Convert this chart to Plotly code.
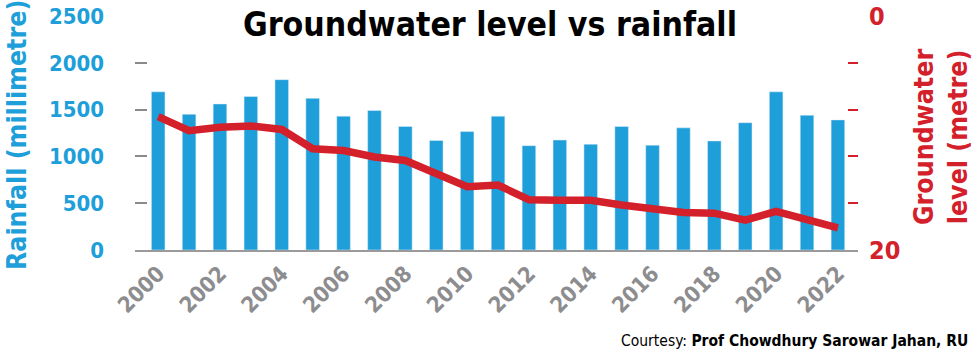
import plotly.graph_objects as go

years = list(range(2000, 2023))
rainfall = [1690, 1450, 1560, 1640, 1820, 1620, 1430, 1490, 1320, 1170, 1265,
            1430, 1115, 1175, 1130, 1320, 1120, 1305, 1165, 1360, 1690, 1440, 1390]
groundwater = [8.6, 9.8, 9.5, 9.4, 9.7, 11.35, 11.5, 12.05, 12.35, 13.5, 14.6,
               14.45, 15.7, 15.75, 15.75, 16.15, 16.55, 16.8, 16.85, 17.45, 16.7, 17.35, 18.1]
x_tick_labels = [str(y) for y in years[::2]]
left_ticks = [0, 500, 1000, 1500, 2000, 2500]
right_ticks = [0, 4, 8, 12, 16, 20]
right_tick_labels = ["0", "", "", "", "", "20"]

BLUE = "#1e9fda"
RED = "#d3202a"
GREY = "#8d8d8f"
FONT = "DejaVu Sans Condensed, DejaVu Sans, sans-serif"


def F(size, color, bold=True):
    d = dict(size=size, color=color, family=FONT)
    if bold:
        d["weight"] = "bold"
    try:
        go.layout.annotation.Font(stretch="condensed")
        d["stretch"] = "condensed"
    except Exception:
        pass
    return d


L, T, B, R = 135, 16, 109, 117
PW, PH = 975 - L - R, 359 - T - B


def px(x):
    return (x - L) / PW


def py(y):
    return (359 - B - y) / PH


fig = go.Figure()
fig.add_trace(go.Bar(x=list(range(len(years))), y=rainfall, marker_color=BLUE,
                     width=0.44, yaxis="y", showlegend=False))
fig.add_trace(go.Scatter(x=list(range(len(years))), y=groundwater, mode="lines",
                         line=dict(color=RED, width=7.5), yaxis="y2", showlegend=False))

fig.update_layout(
    width=975, height=359,
    margin=dict(l=L, r=R, t=T, b=B),
    paper_bgcolor="white", plot_bgcolor="white",
    font=dict(family=FONT),
    xaxis=dict(
        range=[-0.75, 22.65], automargin=False,
        tickmode="array",
        tickvals=list(range(0, len(years), 2)),
        ticktext=x_tick_labels,
        tickangle=-45,
        tickfont=F(22, GREY),
        showline=True, linecolor="#9a9a9a", linewidth=2,
        showgrid=False, ticks="", zeroline=False,
    ),
    yaxis=dict(
        range=[0, 2500], automargin=False,
        tickvals=left_ticks,
        tickfont=F(22, BLUE),
        ticks="inside", ticklen=12, tickcolor="#8a8a8a", tickwidth=1.5,
        showgrid=False, zeroline=False, showline=False,
        ticklabelstandoff=30,
    ),
    yaxis2=dict(
        range=[20, 0], overlaying="y", side="right", automargin=False,
        tickvals=right_ticks, ticktext=right_tick_labels,
        tickfont=F(25, RED),
        ticks="inside", ticklen=10, tickcolor=RED, tickwidth=1.5,
        showgrid=False, zeroline=False, showline=False,
        ticklabelstandoff=10,
    ),
)

fig.add_annotation(text="Groundwater level vs rainfall", xref="paper", yref="paper",
                   x=px(490), y=py(25), yanchor="middle", xanchor="center",
                   showarrow=False, font=F(33.5, "black"))
fig.add_annotation(text="Rainfall (millimetre)", xref="paper", yref="paper",
                   x=px(16), xanchor="center",
                   y=py(135), yanchor="middle", textangle=-90, showarrow=False,
                   font=F(26.5, BLUE))
fig.add_annotation(text="Groundwater<br>level (metre)", xref="paper", yref="paper",
                   x=px(940), xanchor="center",
                   y=py(137), yanchor="middle", textangle=-90, showarrow=False,
                   font=F(26.5, RED))
fig.add_annotation(text="Courtesy: <b>Prof Chowdhury Sarowar Jahan, RU</b>", xref="paper", yref="paper",
                   x=px(970), xanchor="right",
                   y=py(341), yanchor="middle", showarrow=False,
                   font=F(15.5, "black", bold=False))

fig.write_html("out.html", config={"displayModeBar": False},
               post_script="document.body.style.margin='0';document.body.style.overflow='hidden';")
